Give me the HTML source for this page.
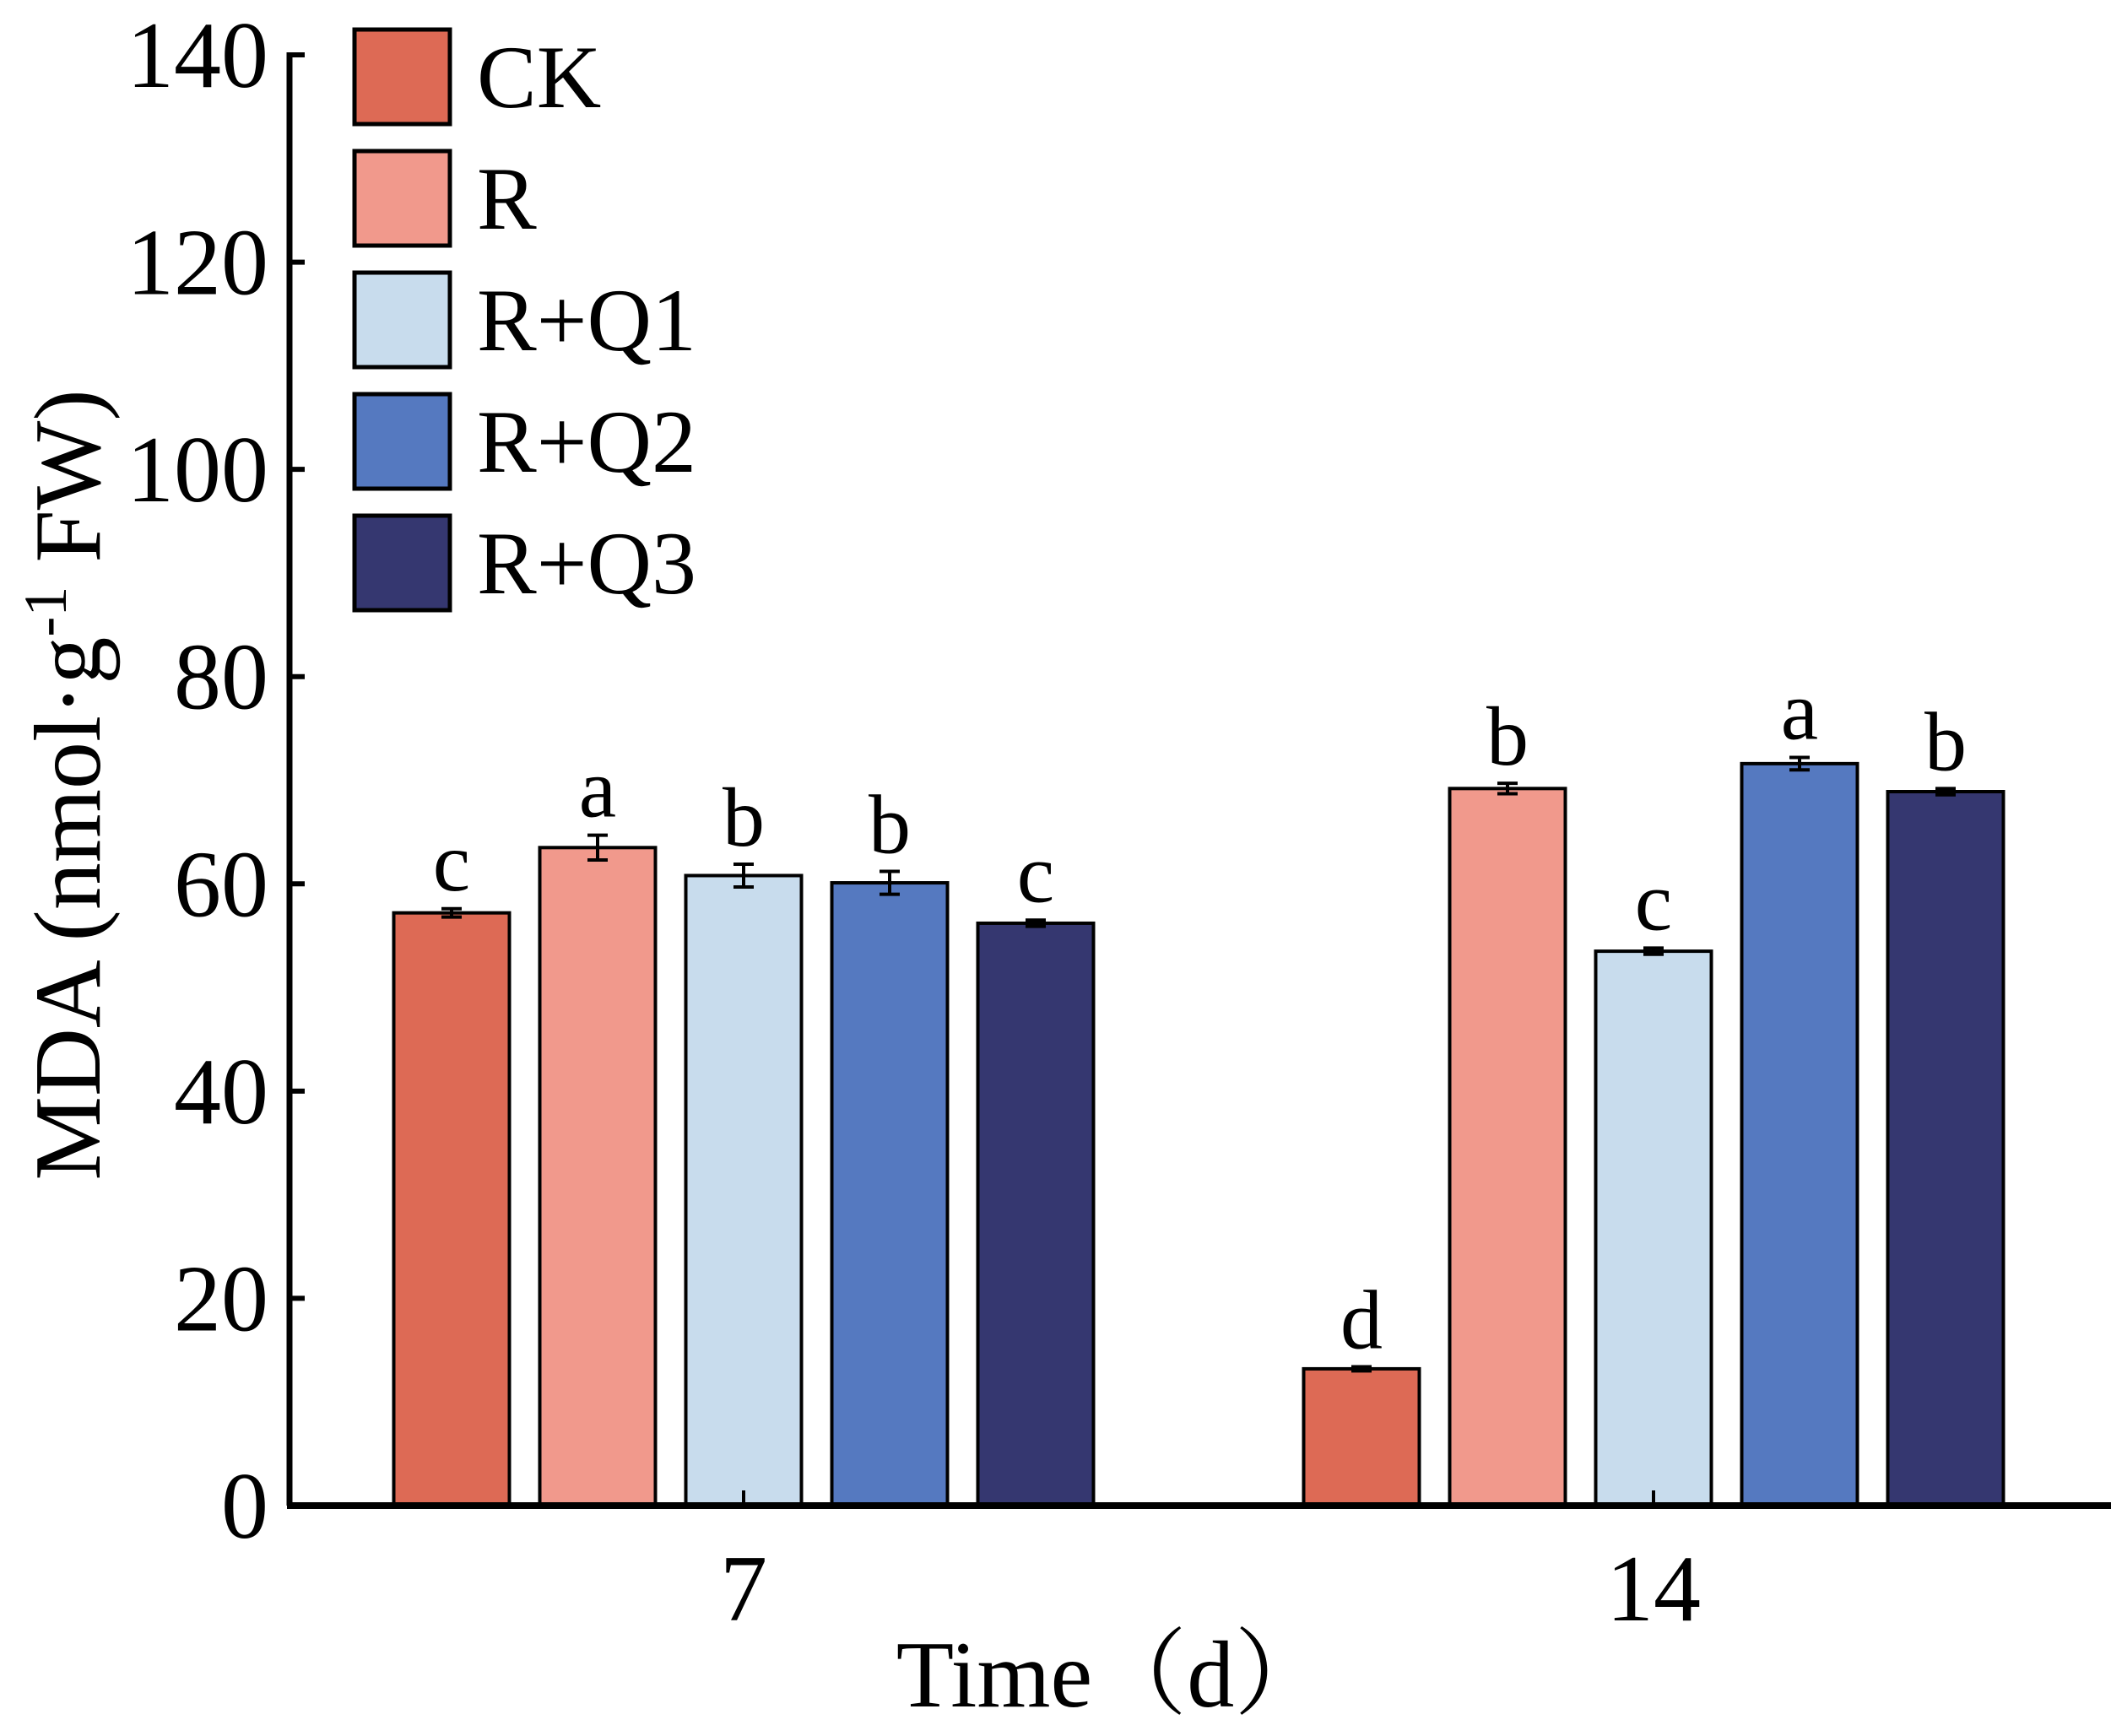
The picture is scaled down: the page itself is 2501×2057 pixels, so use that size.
<!DOCTYPE html>
<html><head><meta charset="utf-8"><style>
html,body{margin:0;padding:0;background:#fff;}
svg{display:block;}
text{font-family:"Liberation Serif","Noto Serif CJK SC",serif;fill:#000;}
</style></head><body>
<svg id="chart" width="2501" height="2057" viewBox="0 0 2501 2057" xmlns="http://www.w3.org/2000/svg">
<g id="plot"></g>
</svg>
<script>
const groups = ["7", "14"];
const seriesNames = ["CK", "R", "R+Q1", "R+Q2", "R+Q3"];
const colors = ["#dd6a55", "#f1998c", "#c8dced", "#5579c0", "#353770"];
const values7 = [57.2, 63.5, 60.8, 60.1, 56.2];
const values14 = [13.2, 69.2, 53.5, 71.6, 68.9];
const errors7 = [0.4, 1.2, 1.1, 1.1, 0.3];
const errors14 = [0.2, 0.5, 0.3, 0.6, 0.3];
const letters7 = ["c", "a", "b", "b", "c"];
const letters14 = ["d", "b", "c", "a", "b"];
const yTicks = [0, 20, 40, 60, 80, 100, 120, 140];

const NS = "http://www.w3.org/2000/svg";
const g = document.getElementById("plot");
const y0 = 1784, yTop = 65, yMax = 140;
const xL = 343, xR = 2501;
function y(v){ return y0 - (v / yMax) * (y0 - yTop); }
const groupCenters = [881, 1959];
const pitch = 173, barW = 137;
function xBar(gi, si){ return groupCenters[gi] + (si - 2) * pitch - barW / 2; }
function mk(tag, attrs, parent){
  const e = document.createElementNS(NS, tag);
  for (const k in attrs) e.setAttribute(k, attrs[k]);
  (parent || g).appendChild(e);
  return e;
}
const allVals = [values7, values14], allErr = [errors7, errors14], allLet = [letters7, letters14];
for (let gi = 0; gi < groups.length; gi++) {
  for (let si = 0; si < seriesNames.length; si++) {
    const v = allVals[gi][si], e = allErr[gi][si];
    const x = xBar(gi, si), cx = x + barW / 2;
    const r = mk("rect", {x: x, y: y(v), width: barW, height: y0 - y(v), fill: colors[si], stroke: "#000", "stroke-width": 4});
    
    
    const eb = mk("path", {d: `M${cx-12},${y(v+e)}H${cx+12}M${cx},${y(v+e)}V${y(v-e)}M${cx-12},${y(v-e)}H${cx+12}`, stroke: "#000", "stroke-width": 4, fill: "none"});
    
    
    const t = mk("text", {x: cx, y: y(v + e) - 22, "text-anchor": "middle", "font-size": 100});
    t.textContent = allLet[gi][si];
    
    
  }
}
// axes
const ya = mk("line", {x1: xL, y1: yTop - 3, x2: xL, y2: y0, stroke: "#000", "stroke-width": 7});


const xa = mk("line", {x1: xL - 3, y1: y0, x2: xR, y2: y0, stroke: "#000", "stroke-width": 8});


for (const tv of yTicks) {
  const tk = mk("line", {x1: xL, y1: y(tv), x2: xL + 18, y2: y(tv), stroke: "#000", "stroke-width": 6});
  
  
  const tl = mk("text", {x: 318, y: y(tv) + 38, "text-anchor": "end", "font-size": 112});
  tl.textContent = tv;
  
  
}
for (let gi = 0; gi < groups.length; gi++) {
  const tk = mk("line", {x1: groupCenters[gi], y1: y0, x2: groupCenters[gi], y2: y0 - 18, stroke: "#000", "stroke-width": 4});
  
  
  const tl = mk("text", {x: groupCenters[gi], y: 1920, "text-anchor": "middle", "font-size": 112});
  tl.textContent = groups[gi];
  
  
}
const xt = mk("text", {x: 1318, y: 2022, "text-anchor": "middle", "font-size": 112});
xt.textContent = "Time（d）";


const yt = mk("text", {x: 0, y: 0, "text-anchor": "middle", "font-size": 112, transform: "translate(118,930) rotate(-90)"});
yt.innerHTML = 'MDA (nmol·g<tspan dy="-40" font-size="72">-1</tspan><tspan dy="40"> FW)</tspan>';


// legend
for (let si = 0; si < seriesNames.length; si++) {
  const ly = 35 + si * 144;
  const lr = mk("rect", {x: 420, y: ly, width: 113, height: 112, fill: colors[si], stroke: "#000", "stroke-width": 5});
  
  
  const lt = mk("text", {x: 565, y: ly + 92, "font-size": 106});
  lt.textContent = seriesNames[si];
  
  
}
</script>
</body></html>
